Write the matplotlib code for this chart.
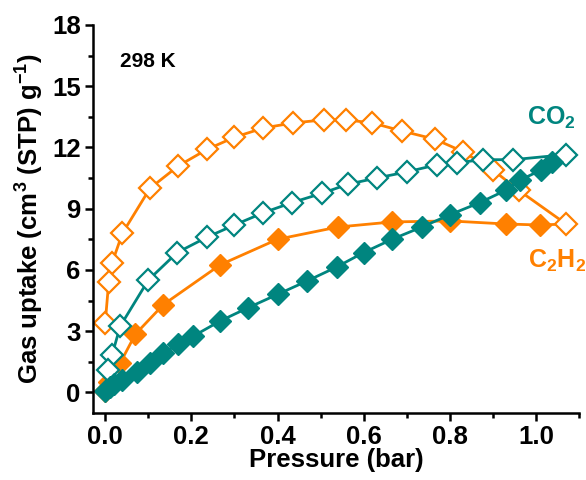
import numpy as np
import matplotlib.pyplot as plt
from matplotlib.ticker import MultipleLocator

plt.rcParams['font.family'] = ['Liberation Sans', 'DejaVu Sans']
plt.rcParams['font.weight'] = 'bold'
plt.rcParams['mathtext.fontset'] = 'custom'
plt.rcParams['mathtext.rm'] = 'Liberation Sans:bold'
plt.rcParams['mathtext.bf'] = 'Liberation Sans:bold'
plt.rcParams['mathtext.it'] = 'Liberation Sans:bold'

orange = '#FF8000'
teal = '#00857F'

# C2H2 adsorption (filled) / desorption (open), 298 K
c2h2_ads_p = [0.0, 0.008, 0.035, 0.07, 0.135, 0.267, 0.40, 0.54, 0.666, 0.80, 0.93, 1.01]
c2h2_ads_q = [0.05, 0.5, 1.45, 2.85, 4.3, 6.25, 7.5, 8.1, 8.35, 8.4, 8.25, 8.2]
c2h2_des_p = [1.07, 0.96, 0.90, 0.83, 0.766, 0.69, 0.62, 0.56, 0.508, 0.436, 0.367,
              0.30, 0.236, 0.17, 0.104, 0.04, 0.016, 0.008, 0.0]
c2h2_des_q = [8.25, 9.9, 10.9, 11.8, 12.4, 12.8, 13.2, 13.35, 13.35, 13.2, 12.95,
              12.5, 11.9, 11.1, 10.0, 7.8, 6.35, 5.4, 3.4]

# CO2 adsorption (filled) / desorption (open)
co2_ads_p = [0.0, 0.01, 0.02, 0.04, 0.073, 0.104, 0.135, 0.17, 0.204, 0.267, 0.332,
             0.40, 0.468, 0.538, 0.60, 0.666, 0.735, 0.80, 0.87, 0.93, 0.963, 1.013, 1.037]
co2_ads_q = [0.05, 0.25, 0.4, 0.6, 1.0, 1.45, 1.95, 2.35, 2.75, 3.5, 4.15,
             4.8, 5.45, 6.15, 6.85, 7.5, 8.1, 8.7, 9.3, 9.9, 10.4, 10.9, 11.3]
co2_des_p = [1.07, 0.947, 0.877, 0.816, 0.77, 0.70, 0.63, 0.564, 0.503, 0.434, 0.367,
             0.30, 0.236, 0.167, 0.10, 0.035, 0.016, 0.007]
co2_des_q = [11.65, 11.4, 11.4, 11.25, 11.15, 10.8, 10.5, 10.2, 9.75, 9.3, 8.8,
             8.2, 7.6, 6.85, 5.5, 3.25, 1.85, 1.1]

fig = plt.figure(figsize=(5.86, 4.8), dpi=100)
ax = fig.add_axes([0.159, 0.140, 0.829, 0.808])

ms = 11
lw = 2.0
for ads_p, ads_q, des_p, des_q, c in [(c2h2_ads_p, c2h2_ads_q, c2h2_des_p, c2h2_des_q, orange),
                                      (co2_ads_p, co2_ads_q, co2_des_p, co2_des_q, teal)]:
    # one continuous isotherm: adsorption then desorption
    ax.plot(ads_p + des_p[:1], ads_q + des_q[:1], '-', color=c, lw=lw)
    ax.plot(des_p, des_q, '-', color=c, lw=lw)
    ax.plot(des_p, des_q, 'D', ms=ms, mfc='white', mec=c, mew=1.6, ls='none')
    ax.plot(ads_p, ads_q, 'D', ms=ms, mfc=c, mec=c, mew=1.0, ls='none')

ax.set_xlim(-0.028, 1.1)
ax.set_ylim(-1, 18)
ax.xaxis.set_major_locator(MultipleLocator(0.2))
ax.xaxis.set_minor_locator(MultipleLocator(0.1))
ax.yaxis.set_major_locator(MultipleLocator(3))
ax.yaxis.set_minor_locator(MultipleLocator(1.5))
ax.xaxis.set_major_formatter(plt.FormatStrFormatter('%.1f'))

for s in ['top', 'right']:
    ax.spines[s].set_visible(False)
for s in ['left', 'bottom']:
    ax.spines[s].set_linewidth(1.8)
ax.tick_params(which='major', direction='out', length=6, width=1.8, labelsize=18.5, pad=3)
ax.tick_params(which='minor', direction='out', length=3.5, width=1.8)

ax.set_xlabel('Pressure (bar)', fontsize=18.5, fontweight='bold', labelpad=-1)
ax.set_ylabel('Gas uptake (cm$^{3}$ (STP) g$^{-1}$)', fontsize=18.5,
              fontweight='bold', labelpad=4)

ax.text(0.035, 16.2, '298 K', fontsize=15, fontweight='bold', ha='left', va='center')
ax.text(1.037, 13.45, 'CO$_{2}$', fontsize=18, fontweight='bold', color=teal,
        ha='center', va='center')
ax.text(1.05, 6.45, 'C$_{2}$H$_{2}$', fontsize=18, fontweight='bold',
        color=orange, ha='center', va='center')

fig.savefig('out.png', dpi=100)
